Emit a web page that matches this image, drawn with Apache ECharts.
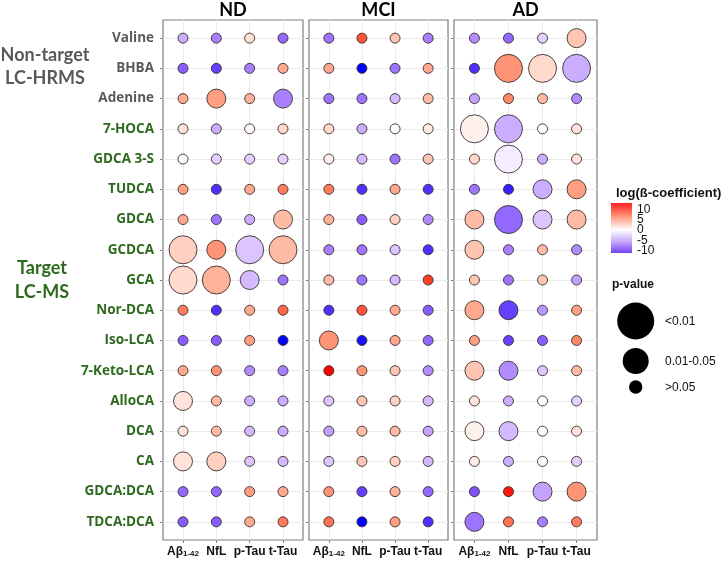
<!DOCTYPE html>
<html>
<head>
<meta charset="utf-8">
<script src="https://cdn.jsdelivr.net/npm/echarts@6/dist/echarts.min.js"></script>
<style>
html,body{margin:0;padding:0;background:#fff;}
#chart{width:727px;height:561px;}
</style>
</head>
<body>
<div id="chart"></div>
<script>
// ---- data ----
const metabolites = ['Valine','BHBA','Adenine','7-HOCA','GDCA 3-S','TUDCA','GDCA','GCDCA','GCA','Nor-DCA','Iso-LCA','7-Keto-LCA','AlloCA','DCA','CA','GDCA:DCA','TDCA:DCA'];
const nonTargetCount = 3;
const measures = ['Aβ1-42','NfL','p-Tau','t-Tau'];
const panels = ['ND','MCI','AD'];

// log(beta-coefficient), rows = metabolites, cols = measures
const ndBeta = [
  [-3.5,-5.5,1.5,-6.5],
  [-7,-8,-5.5,4.5],
  [4.5,5,4,-5.5],
  [1.5,-3.5,0.3,2],
  [0.2,-2,-2,-2],
  [5,-8.5,4.5,6.5],
  [4.5,-6,-3.5,3.5],
  [2.5,5.5,-2.5,3.5],
  [2,4,-3,-6],
  [6.5,-8.5,4.5,7.5],
  [-7,-7,5,-10],
  [4.5,5.5,-5,-5.5],
  [1.5,3.5,-3.5,-3.5],
  [1.5,3.5,-3,-3.5],
  [1.5,2.5,-2.5,-3],
  [-6.5,-6.5,5,4.5],
  [-7,-7,4.5,6.5]
];
// p-value class: 1 = >0.05, 2 = 0.01-0.05, 3 = <0.01
const ndP = [
  [1,1,1,1],[1,1,1,1],[1,2,1,2],[1,1,1,1],[1,1,1,1],[1,1,1,1],[1,1,1,2],
  [3,2,3,3],[3,3,2,1],[1,1,1,1],[1,1,1,1],[1,1,1,1],[2,1,1,1],[1,1,1,1],
  [2,2,1,1],[1,1,1,1],[1,1,1,1]
];
const mciBeta = [
  [-6,8,3,-5.5],
  [4.5,-10,-6,4.5],
  [-6,-6,-3,3.5],
  [2,-3.5,0,1],
  [0.7,-3,-6,3],
  [6.5,-8.5,4.5,-8.5],
  [4,-7,2.5,-5],
  [-5.5,-6,-2.5,-8.5],
  [3.5,-6,-3,8.5],
  [-8.5,8,4.5,-7],
  [5.5,-9.5,4.5,-6.5],
  [10,5.5,3,-5],
  [-2.5,3,2.5,-3],
  [-4,3.5,3.5,-4],
  [-2.5,3,2.5,-3],
  [5.5,-8,4,-6.5],
  [7,-10,5,-8.5]
];
const mciP = [
  [1,1,1,1],[1,1,1,1],[1,1,1,1],[1,1,1,1],[1,1,1,1],[1,1,1,1],[1,1,1,1],
  [1,1,1,1],[1,1,1,1],[1,1,1,1],[2,1,1,1],[1,1,1,1],[1,1,1,1],[1,1,1,1],
  [1,1,1,1],[1,1,1,1],[1,1,1,1]
];
const adBeta = [
  [-5,-6.5,-2,3],
  [-8.5,5.5,2,-3.5],
  [-4,6,3.5,-5],
  [0.7,-3.5,0,1.5],
  [2,-0.8,-3.5,1.5],
  [-6,-9,-3.5,5],
  [3.5,-6.5,-2.5,3.5],
  [3,-5.5,3.5,-5],
  [3,-6,3,-4],
  [4.5,-8,-4.5,5],
  [5,-8,-7,6],
  [3,-5,-2.5,3.5],
  [1.5,-3.5,0,-2],
  [0.7,-3,0,1.5],
  [1,-3.5,0,-2],
  [-7.5,9.5,-4,5.5],
  [-6,7,-5.5,6.5]
];
const adP = [
  [1,1,1,2],[1,3,3,3],[1,1,1,1],[3,3,1,1],[1,3,1,1],[1,1,2,2],[2,3,2,2],
  [2,1,1,1],[1,1,1,1],[2,2,1,1],[1,1,1,1],[2,2,1,1],[1,1,1,1],[2,2,1,1],
  [1,1,1,1],[1,1,2,2],[2,1,1,1]
];
const colorTicks = [10,5,0,-5,-10];
const pLabels = ['<0.01','0.01-0.05','>0.05'];

// ---- build ----
const betas = [ndBeta, mciBeta, adBeta];
const pvals = [ndP, mciP, adP];
const SIZES = [10, 19, 28];
const GREEN = '#2d6a1f', GRAY = '#595959';
const gridBoxes = [
  {left:163, top:20, width:140, height:520},
  {left:309, top:20, width:139, height:520},
  {left:454, top:20, width:143, height:520}
];
const rowVals = metabolites.map((_, i) => i + 1);
const colVals = measures.map((_, i) => i + 1);

const grids = [], xAxes = [], yAxes = [], series = [], scatterIdx = [];
panels.forEach((p, k) => {
  grids.push(Object.assign({show:true, borderColor:'#7f7f7f', borderWidth:1.2, backgroundColor:'transparent', containLabel:false}, gridBoxes[k]));
  xAxes.push({
    type:'value', gridIndex:k, min:0.4, max:4.6,
    axisLine:{show:false}, splitLine:{show:false},
    axisTick:{show:true, customValues:colVals, length:3, lineStyle:{color:'#7f7f7f'}},
    axisLabel:{
      show:true, customValues:colVals, margin:6,
      fontFamily:'Liberation Sans, Arial', fontWeight:'bold', fontSize:12, color:'#111',
      formatter:(v)=>{
        const i = Math.round(v) - 1;
        if (i === 0) return '{b|Aβ}{s|1-42}';
        return '{b|' + measures[i] + '}';
      },
      rich:{
        b:{fontFamily:'Liberation Sans, Arial', fontWeight:'bold', fontSize:12, color:'#111'},
        s:{fontFamily:'Liberation Sans, Arial', fontWeight:'bold', fontSize:8, color:'#111', verticalAlign:'bottom', padding:[4,0,0,0]}
      }
    }
  });
  yAxes.push({
    type:'value', gridIndex:k, min:0.4, max:17.6, inverse:true,
    axisLine:{show:false}, splitLine:{show:false},
    axisTick:{show:true, customValues:rowVals, length:3, lineStyle:{color:'#7f7f7f'}},
    axisLabel:{
      show:k === 0, customValues:rowVals, margin:9,
      fontFamily:'Open Sans', fontWeight:'bold', fontSize:13.5,
      formatter:(v)=>{
        const i = Math.round(v) - 1;
        return (i < nonTargetCount ? '{g|' : '{t|') + metabolites[i] + '}';
      },
      rich:{
        g:{fontFamily:'Open Sans', fontWeight:'bold', fontSize:13.5, color:GRAY},
        t:{fontFamily:'Open Sans', fontWeight:'bold', fontSize:13.5, color:GREEN}
      }
    }
  });
  const lineData = [];
  rowVals.forEach(r => lineData.push({coords:[[0.4, r],[4.6, r]]}));
  colVals.forEach(c => lineData.push({coords:[[c, 0.4],[c, 17.6]]}));
  series.push({
    type:'lines', coordinateSystem:'cartesian2d', xAxisIndex:k, yAxisIndex:k,
    data:lineData, silent:true, z:1, animation:false,
    lineStyle:{color:'#ebebeb', width:1, opacity:1, type:'solid'}
  });
  const pts = [];
  betas[k].forEach((row, i) => row.forEach((b, j) => {
    pts.push([j + 1, i + 1, b, pvals[k][i][j]]);
  }));
  scatterIdx.push(series.length);
  series.push({
    type:'scatter', xAxisIndex:k, yAxisIndex:k, data:pts, z:3, animation:false,
    symbol:'circle',
    symbolSize:(d)=>SIZES[d[3] - 1],
    itemStyle:{borderColor:'#3a3030', borderWidth:0.9, opacity:1},
    emphasis:{disabled:true}
  });
});

// legend graphics
const graphic = [];
const txt = (text, x, y, font, fill, align) => ({
  type:'text', silent:true, x:x, y:y,
  style:{text:text, font:font, fill:fill, textAlign:align || 'left', textVerticalAlign:'middle'}
});
const panelCenters = gridBoxes.map(g => g.left + g.width / 2);
panels.forEach((p, k) => graphic.push(txt(p, panelCenters[k], 10, 'bold 18px Lato', '#000', 'center')));
graphic.push(txt('Non-target', 45, 55, 'bold 18px Lato', GRAY, 'center'));
graphic.push(txt('LC-HRMS', 45, 78, 'bold 18px Lato', GRAY, 'center'));
graphic.push(txt('Target', 42, 268, 'bold 18px Lato', GREEN, 'center'));
graphic.push(txt('LC-MS', 42, 292, 'bold 18px Lato', GREEN, 'center'));

// colour bar
graphic.push(txt('log(ß-coefficient)', 616, 193, 'bold 13px "Liberation Sans", Arial', '#111'));
graphic.push({
  type:'rect', silent:true, shape:{x:611, y:203, width:21, height:50},
  style:{fill:new echarts.graphic.LinearGradient(0,0,0,1,[
    {offset:0, color:'#ff2020'},
    {offset:0.28, color:'#ff9a80'},
    {offset:0.54, color:'#ffffff'},
    {offset:0.78, color:'#c4a4fb'},
    {offset:1, color:'#7440f2'}
  ])}
});
const cbY = [210, 220, 230, 241, 251];
colorTicks.forEach((t, i) => graphic.push(txt(String(t), 637, cbY[i], '12px "Liberation Sans", Arial', '#111')));

// p-value legend
graphic.push(txt('p-value', 612, 285, 'bold 12px "Liberation Sans", Arial', '#111'));
const pR = [18.5, 13, 6.7], pY = [321, 361, 387];
pR.forEach((r, i) => {
  graphic.push({type:'circle', silent:true, shape:{cx:635.7, cy:pY[i], r:r}, style:{fill:'#000'}});
  graphic.push(txt(pLabels[i], 665, pY[i] + 1, '12px "Liberation Sans", Arial', '#111'));
});

const option = {
  backgroundColor:'#fff',
  animation:false,
  grid:grids, xAxis:xAxes, yAxis:yAxes, series:series,
  visualMap:{
    type:'continuous', show:false, dimension:2, seriesIndex:scatterIdx, min:-10, max:10,
    inRange:{color:['#0000ff','#7e51ff','#b28bff','#dcc4ff','#ffffff','#ffcfbf','#ff9e81','#ff6746','#ff0000']}
  },
  graphic:graphic
};
const chart = echarts.init(document.getElementById('chart'));
chart.setOption(option);
</script>
</body>
</html>
